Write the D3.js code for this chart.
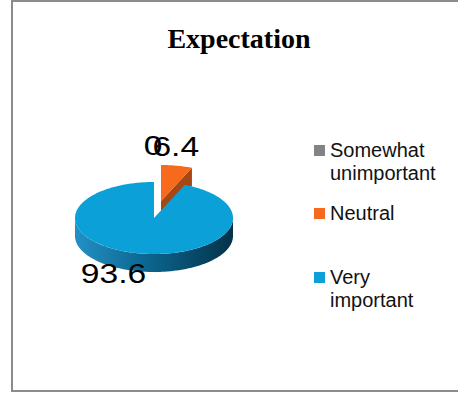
<!DOCTYPE html>
<html><head><meta charset="utf-8">
<script src="https://cdn.jsdelivr.net/npm/d3@7/dist/d3.min.js"></script>
<style>html,body{margin:0;padding:0;background:#fff;}svg{display:block;}</style>
</head><body>
<svg id="c" width="458" height="396"></svg>
<script>
const title = "Expectation";
const categories = ["Somewhat unimportant", "Neutral", "Very important"];
const legendLines = [["Somewhat", "unimportant"], ["Neutral"], ["Very", "important"]];
const values = [0, 6.4, 93.6];
const labels = ["0", "6.4", "93.6"];
const topColors = ["#838287", "#F7691D", "#0BA0D7"];
const exploded = [false, true, false];

const svg = d3.select("#c");
svg.append("rect").attr("x", 12).attr("y", 1).attr("width", 450).attr("height", 390)
  .attr("fill", "#fff").attr("stroke", "#8c8c8c").attr("stroke-width", 2);

svg.append("text").attr("x", 239).attr("y", 48).attr("text-anchor", "middle")
  .attr("font-family", "Liberation Serif, Times New Roman, serif").attr("font-weight", "bold")
  .attr("font-size", 28).attr("fill", "#000").text(title);

const cx = 154, cy = 218, rx = 79, ry = 36, depth = 18;
const pie = d3.pie().sort(null).value(d => d)(values);
const pt = (a, r = 1) => [cx + rx * r * Math.sin(a), cy - ry * r * Math.cos(a)];
const explodeOff = a => [7 * Math.sin(a) / 0.2, -17 * Math.cos(a) / 0.98];

const defs = svg.append("defs");
const g1 = defs.append("linearGradient").attr("id", "sideBlue").attr("x1", 0).attr("x2", 1).attr("y1", 0).attr("y2", 0);
g1.append("stop").attr("offset", 0).attr("stop-color", "#2390c4");
g1.append("stop").attr("offset", 0.45).attr("stop-color", "#0b6690");
g1.append("stop").attr("offset", 1).attr("stop-color", "#053249");

function arcPoints(a0, a1, dx, dy, yoff) {
  const n = Math.max(2, Math.ceil((a1 - a0) / 0.02));
  const p = [];
  for (let i = 0; i <= n; i++) {
    const a = a0 + (a1 - a0) * i / n;
    const q = pt(a);
    p.push([q[0] + dx, q[1] + dy + yoff]);
  }
  return p;
}
const line = d3.line();

const layer = svg.append("g");
const order = pie.map((d, i) => i).sort((a, b) => (exploded[b] ? 1 : 0) - (exploded[a] ? 1 : 0));
order.forEach(i => {
  const d = pie[i];
  if (d.endAngle - d.startAngle <= 0) return;
  const mid = (d.startAngle + d.endAngle) / 2;
  const [dx, dy] = exploded[i] ? explodeOff(mid) : [0, 0];
  const c0 = [cx + dx, cy + dy];
  const col = d3.color(topColors[i]);
  const s0 = Math.max(d.startAngle, Math.PI / 2), s1 = Math.min(d.endAngle, 3 * Math.PI / 2);
  if (s1 > s0) {
    const top = arcPoints(s0, s1, dx, dy, 0);
    const bot = arcPoints(s0, s1, dx, dy, depth).reverse();
    layer.append("path").attr("d", line(top.concat(bot)) + "Z")
      .attr("fill", i === 2 ? "url(#sideBlue)" : col.darker(1.2));
  }
  const e = d.endAngle;
  if (exploded[i] && Math.cos(e + Math.PI / 2) < 0) {
    const r = pt(e);
    const face = [c0, [r[0] + dx, r[1] + dy], [r[0] + dx, r[1] + dy + depth], [c0[0], c0[1] + depth]];
    layer.append("path").attr("d", line(face) + "Z").attr("fill", col.darker(1.1));
  }
  const topP = [c0].concat(arcPoints(d.startAngle, d.endAngle, dx, dy, 0));
  layer.append("path").attr("d", line(topP) + "Z").attr("fill", topColors[i]);
});

// data labels (slightly wide face, as in the reference)
pie.forEach((d, i) => {
  const mid = (d.startAngle + d.endAngle) / 2;
  const [dx, dy] = exploded[i] ? explodeOff(mid) : [0, 0];
  const p = pt(mid);
  let x, y, anchor;
  if (Math.cos(mid) >= 0) {
    x = p[0] + dx - 1; y = cy - (ry + 27) * Math.cos(mid); anchor = "middle";
  } else {
    x = p[0] + 8; y = p[1] + depth + 12; anchor = "end";
  }
  svg.append("text").attr("transform", `translate(${x},${y}) scale(1.2,1)`).attr("text-anchor", anchor)
    .attr("font-family", "Liberation Sans, Arial, sans-serif").attr("font-size", 28)
    .attr("fill", "#000").text(labels[i]);
});

// legend
const legY = [157, 220, 284];
categories.forEach((c, i) => {
  const g = svg.append("g").attr("transform", `translate(314,${legY[i]})`);
  g.append("rect").attr("x", 0).attr("y", -12).attr("width", 11).attr("height", 11).attr("fill", topColors[i]);
  legendLines[i].forEach((t, j) => {
    g.append("text").attr("x", 16).attr("y", j * 23).attr("font-family", "Liberation Sans, Arial, sans-serif")
      .attr("font-size", 20).attr("fill", "#111").text(t);
  });
});
</script>
</body></html>
